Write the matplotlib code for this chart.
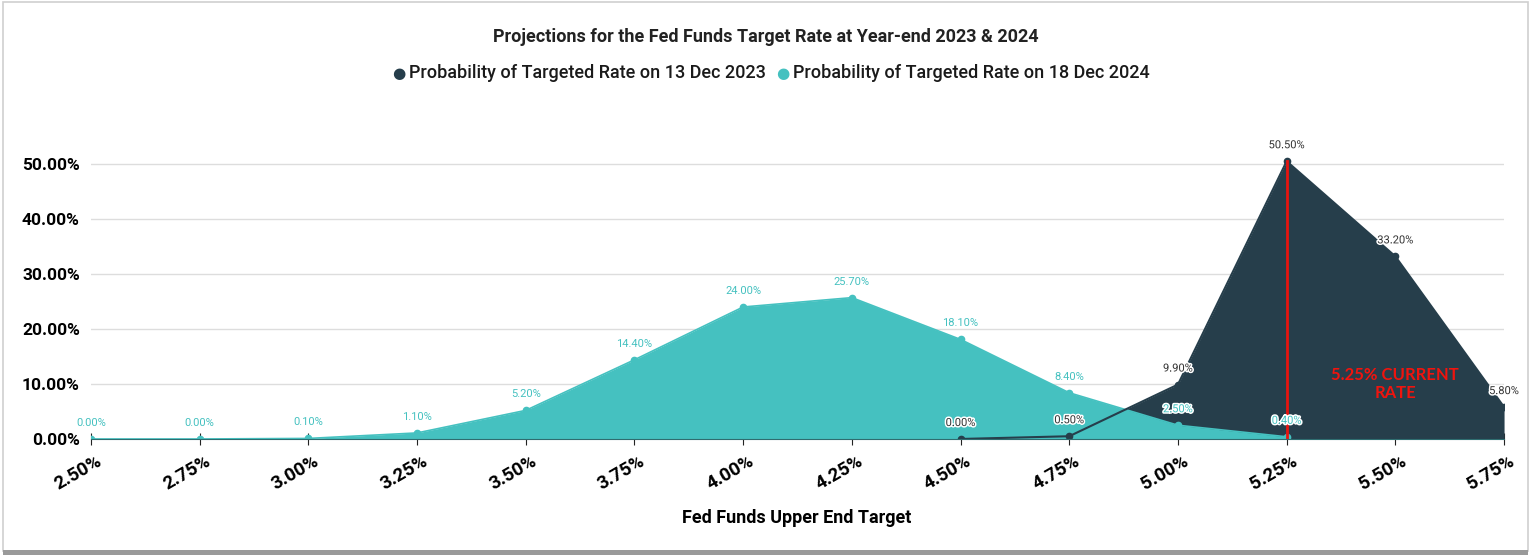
import matplotlib.pyplot as plt
import matplotlib.patheffects as pe
import matplotlib.transforms as mtrans
from matplotlib.patches import Rectangle

plt.rcParams['font.family'] = ['Roboto', 'DejaVu Sans']

rates = ['2.50%', '2.75%', '3.00%', '3.25%', '3.50%', '3.75%', '4.00%',
         '4.25%', '4.50%', '4.75%', '5.00%', '5.25%', '5.50%', '5.75%']
prob_2024 = [0.0, 0.0, 0.1, 1.1, 5.2, 14.4, 24.0, 25.7, 18.1, 8.4, 2.5, 0.4]
prob_2023 = [0.0, 0.5, 9.9, 50.5, 33.2, 5.8]
start_2023 = 8  # 4.50%
current_rate = 11  # 5.25%

dark = '#263e4b'
teal = '#45c1c0'

fig = plt.figure(figsize=(15.31, 5.58), dpi=100)
ax = fig.add_axes([0.0594, 0.2133, 0.923, 0.5421])

x24 = list(range(len(prob_2024)))
x23 = list(range(start_2023, start_2023 + len(prob_2023)))

# dark fill behind, teal fill on top, dark line on top of all
ax.fill_between(x23, prob_2023, 0, color=dark, zorder=2, lw=0)
ax.fill_between(x24, prob_2024, 0, color=teal, zorder=3, lw=0)
ax.plot(x24, prob_2024, color=teal, lw=1.2, marker='o', ms=4.5, zorder=4)
ax.plot(x23, prob_2023, color=dark, lw=1.5, marker='o', ms=4.5, zorder=5)

stroke = [pe.withStroke(linewidth=2.2, foreground='white')]
for x, v in zip(x24, prob_2024):
    t = ax.text(x, v + 2.0, '%.2f%%' % v, ha='center', va='bottom',
                fontsize=8, color=teal, zorder=7)
    if x >= 10:
        t.set_path_effects(stroke)
for x, v in zip(x23, prob_2023):
    ax.text(x, v + 2.0, '%.2f%%' % v, ha='center', va='bottom',
            fontsize=8, color='#333333', zorder=7, path_effects=stroke)

ax.plot([current_rate, current_rate], [0, prob_2023[current_rate - start_2023]],
        color='#e8140f', lw=2, zorder=6)
ax.text(12.0, 10.0, '5.25% CURRENT\nRATE', color='#f0140e', fontsize=12,
        fontweight='bold', ha='center', va='center', linespacing=1.1, zorder=7,
        family=['Lato', 'DejaVu Sans'])

ax.set_xlim(0, len(rates) - 1)
ax.set_ylim(0, 55)
ax.set_yticks([0, 10, 20, 30, 40, 50])
ax.set_yticklabels(['%.2f%%' % v for v in [0, 10, 20, 30, 40, 50]],
                   fontsize=12.5, fontweight='bold')
ax.set_xticks(range(len(rates)))
ax.set_xticklabels([])

# rotated x labels, placed by hand below each tick
base = mtrans.blended_transform_factory(ax.transData, ax.transAxes)
shift = mtrans.ScaledTranslation(-13 / 100, -34 / 100, fig.dpi_scale_trans)
for i, r in enumerate(rates):
    ax.text(i, 0, r, transform=base + shift, rotation=30, fontsize=13.5,
            fontweight='bold', ha='center', va='center', clip_on=False)

ax.tick_params(axis='y', length=0, pad=8)
ax.tick_params(axis='x', length=9, direction='inout', color='#222222')
ax.grid(axis='y', color='#dddddd', lw=1, zorder=0)
for s in ['top', 'right', 'left']:
    ax.spines[s].set_visible(False)
ax.spines['bottom'].set_color('#2f6d70')
ax.spines['bottom'].set_zorder(6)

fig.text(0.5206, 0.0717, 'Fed Funds Upper End Target', fontsize=13, fontweight='bold',
         ha='center', va='center')

fig.text(0.5, 0.933, 'Projections for the Fed Funds Target Rate at Year-end 2023 & 2024',
         ha='center', va='center', fontsize=13, fontweight='bold', color='#222222')

# legend in the header
fig.text(0.2605, 0.869, '\u25cf', color=dark, fontsize=11, ha='center', va='center',
         family='DejaVu Sans')
fig.text(0.267, 0.869, 'Probability of Targeted Rate on 13 Dec 2023', fontsize=13,
         ha='left', va='center', color='#1a1a1a', fontweight='medium')
fig.text(0.5115, 0.869, '\u25cf', color=teal, fontsize=11, ha='center', va='center',
         family='DejaVu Sans')
fig.text(0.518, 0.869, 'Probability of Targeted Rate on 18 Dec 2024', fontsize=13,
         ha='left', va='center', color='#1a1a1a', fontweight='medium')

# card frame with shadow
fig.patches.append(Rectangle((0.002, 0.012), 0.996, 0.985, transform=fig.transFigure,
                             fill=False, edgecolor='#cfcfcf', lw=1.2))
fig.patches.append(Rectangle((0.002, 0.005), 0.996, 0.009, transform=fig.transFigure,
                             facecolor='#9a9a9a', edgecolor='none'))

fig.savefig('out.png', dpi=100)
